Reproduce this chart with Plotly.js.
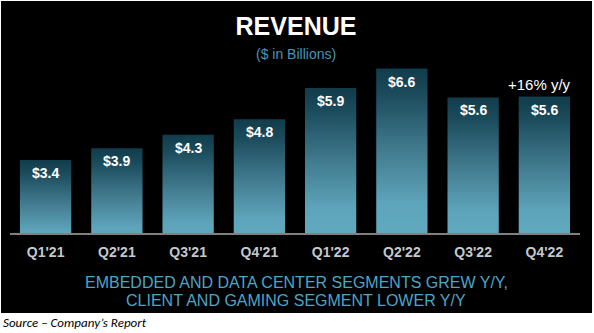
<!DOCTYPE html>
<html>
<head>
<meta charset="utf-8">
<script src="https://cdn.plot.ly/plotly-3.0.1.min.js"></script>
<style>
  html, body { margin: 0; padding: 0; background: #ffffff; }
  #chart { width: 594px; height: 333px; }
</style>
</head>
<body>
<div id="chart"></div>
<script>
// ---- data ----
const quarters = ["Q1'21", "Q2'21", "Q3'21", "Q4'21", "Q1'22", "Q2'22", "Q3'22", "Q4'22"];
const revenue = [3.45, 3.85, 4.31, 4.83, 5.89, 6.55, 5.57, 5.60];          // $ billions (bar heights)
const revenueLabels = ["$3.4", "$3.9", "$4.3", "$4.8", "$5.9", "$6.6", "$5.6", "$5.6"];
const growthNote = "+16% y/y";
const titleText = "REVENUE";
const subtitleText = "($ in Billions)";
const footLine1 = "EMBEDDED AND DATA CENTER SEGMENTS GREW Y/Y,";
const footLine2 = "CLIENT AND GAMING SEGMENT LOWER Y/Y";
const sourceText = "Source \u2013 Company\u2019s Report";

const FONT = "Arial, 'Liberation Sans', sans-serif";

const trace = {
  type: 'bar',
  x: quarters,
  y: revenue,
  marker: { color: '#3d7f95', line: { width: 0 } },
  hoverinfo: 'x+y'
};

const annotations = [];
quarters.forEach((q, i) => {
  annotations.push({
    x: q, y: revenue[i], xref: 'x', yref: 'y',
    text: '<b>' + revenueLabels[i] + '</b>',
    showarrow: false, yanchor: 'top', yshift: -3,
    font: { family: FONT, size: 14, color: '#ffffff' }
  });
});
annotations.push({
  x: quarters[quarters.length - 1], y: revenue[revenue.length - 1], xref: 'x', yref: 'y',
  text: growthNote, showarrow: false, yanchor: 'bottom', yshift: 2, xshift: -5,
  font: { family: FONT, size: 15, color: '#ffffff' }
});
annotations.push({
  x: 0.5018, y: 1.035, xref: 'paper', yref: 'paper',
  text: subtitleText, showarrow: false, yanchor: 'middle',
  font: { family: FONT, size: 14, color: '#4596b8' }
});
annotations.push({
  x: 0.5018, y: -0.286, xref: 'paper', yref: 'paper',
  text: footLine1, showarrow: false, yanchor: 'middle',
  font: { family: FONT, size: 16, color: '#4ba6c9' }
});
annotations.push({
  x: 0.5018, y: -0.393, xref: 'paper', yref: 'paper',
  text: footLine2, showarrow: false, yanchor: 'middle',
  font: { family: FONT, size: 16, color: '#4ba6c9' }
});
annotations.push({
  x: -0.016, y: -0.52, xref: 'paper', yref: 'paper',
  text: sourceText, showarrow: false, xanchor: 'left', yanchor: 'middle',
  font: { family: "Carlito, Calibri, 'Liberation Sans', sans-serif", size: 13, color: '#000000', style: 'italic' }
});

const layout = {
  width: 594, height: 333,
  margin: { l: 10, r: 14, t: 60, b: 100, pad: 0 },
  paper_bgcolor: '#ffffff',
  plot_bgcolor: 'rgba(0,0,0,0)',
  showlegend: false,
  bargap: 0.28,
  title: {
    text: '<b>' + titleText + '</b>',
    x: 0.4983, xref: 'container', xanchor: 'center',
    y: 0.92, yref: 'container', yanchor: 'middle',
    font: { family: FONT, size: 25, color: '#ffffff' }
  },
  xaxis: {
    type: 'category',
    showline: true, linecolor: '#808080', linewidth: 2,
    showgrid: false, zeroline: false, ticks: '',
    ticklabelstandoff: 5,
    tickfont: { family: FONT, size: 14, color: '#c4c9ce', weight: 'bold' },
    fixedrange: true
  },
  yaxis: {
    range: [0.98, 6.84],
    visible: false, showgrid: false, zeroline: false, fixedrange: true
  },
  shapes: [{
    type: 'rect', xref: 'paper', yref: 'paper', layer: 'below',
    x0: -0.0158, x1: 1.0211, y0: -0.4624, y1: 1.341,
    fillcolor: '#000000', line: { width: 0 }
  }],
  annotations: annotations
};

Plotly.newPlot('chart', [trace], layout, { displayModeBar: false, staticPlot: true }).then(gd => {
  const svg = gd.querySelector('svg.main-svg');
  const NS = 'http://www.w3.org/2000/svg';
  let defs = svg.querySelector('defs');
  if (!defs) { defs = document.createElementNS(NS, 'defs'); svg.insertBefore(defs, svg.firstChild); }
  const grad = document.createElementNS(NS, 'linearGradient');
  grad.setAttribute('id', 'barGrad');
  grad.setAttribute('x1', '0'); grad.setAttribute('y1', '0');
  grad.setAttribute('x2', '0'); grad.setAttribute('y2', '1');
  [['0', '#113c4b'], ['0.12', '#1a4a5a'], ['0.45', '#457f93'], ['0.7', '#5ea5bb'], ['1', '#64adc3']].forEach(([o, c]) => {
    const s = document.createElementNS(NS, 'stop');
    s.setAttribute('offset', o); s.setAttribute('stop-color', c);
    grad.appendChild(s);
  });
  defs.appendChild(grad);
  gd.querySelectorAll('.trace.bars .point path').forEach(p => {
    p.style.fill = 'url(#barGrad)';
  });
});
</script>
</body>
</html>
